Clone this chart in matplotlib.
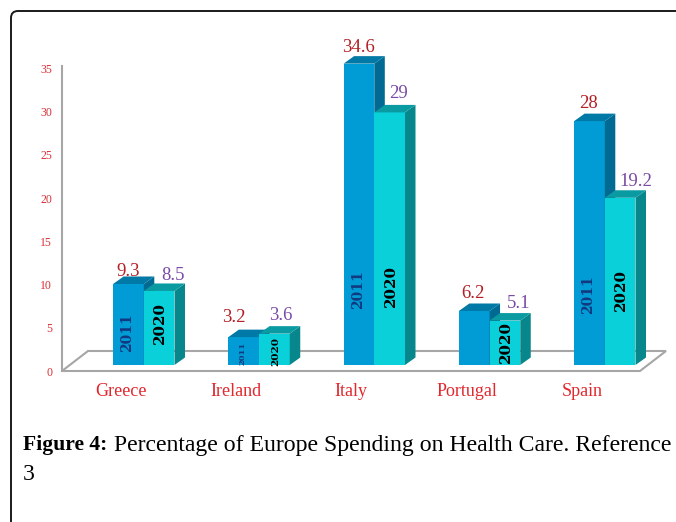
import matplotlib
matplotlib.use("Agg")
import matplotlib.pyplot as plt
from matplotlib.patches import FancyBboxPatch, Polygon

countries = ["Greece", "Ireland", "Italy", "Portugal", "Spain"]
spend_2011 = [9.3, 3.2, 34.6, 6.2, 28]
spend_2020 = [8.5, 3.6, 29, 5.1, 19.2]
value_labels_2011 = ["9.3", "3.2", "34.6", "6.2", "28"]
value_labels_2020 = ["8.5", "3.6", "29", "5.1", "19.2"]
y_ticks = [0, 5, 10, 15, 20, 25, 30, 35]

# Label placement, in pixels of the page
label_pos_2011 = [(128, 271), (234, 317), (358, 48), (473, 294), (589, 104)]
label_pos_2020 = [(173, 275), (281, 316), (398, 93), (519, 303), (636, 181)]
inner_pos_2011 = [333, 353, 290, None, 295]
inner_pos_2020 = [323, 352, 286, 342, 290]
inner_size_2011 = [10, 6, 10, 10, 10]
inner_size_2020 = [10.8, 7.5, 10.8, 10.8, 10.8]

W, H = 676, 522
BAR_W = 30.7
GAP = 115.25
DX, DY = 10.5, 7.5
BASE = 365
PX_PER_UNIT = 8.71

plt.rcParams["font.family"] = ["Liberation Serif", "DejaVu Serif"]

fig = plt.figure(figsize=(W / 100, H / 100), dpi=100)

# Page layer, one unit is one pixel
page = fig.add_axes([0, 0, 1, 1])
page.set_xlim(0, W)
page.set_ylim(H, 0)
page.axis("off")
page.add_patch(FancyBboxPatch((11, 11), 800, 700, boxstyle="round,pad=0,rounding_size=7",
                              fc="white", ec="#1a1a1a", lw=1.4))

# Floor of the plot
page.add_patch(Polygon([(62, 371), (88, 351), (666, 351), (640, 371)], closed=True,
                       fc="white", ec="#a6a6a6", lw=1.5))

# Axis with the tick labels
ax_y = fig.add_axes([62 / W, 1 - 371 / H, 0.01, (371 - 66) / H])
ax_y.patch.set_alpha(0)
ax_y.set_ylim(0, 35 * 305 / 302.5)
ax_y.set_xticks([])
ax_y.set_yticks(y_ticks)
ax_y.tick_params(axis="y", length=0, pad=7, labelsize=8.5, labelcolor="#dc2f36")
for s in ["top", "right", "bottom"]:
    ax_y.spines[s].set_visible(False)
ax_y.spines["left"].set_color("#a6a6a6")
ax_y.spines["left"].set_linewidth(1.5)

# Bars, x in category index and y in value
ax = fig.add_axes([0, 0, 1, 1])
ax.patch.set_alpha(0)
ax.axis("off")
x0 = 143.8
ax.set_xlim(-x0 / GAP, (W - x0) / GAP)
ax.set_ylim(-(H - BASE) / PX_PER_UNIT, BASE / PX_PER_UNIT)
w = BAR_W / GAP
dx, dy = DX / GAP, DY / PX_PER_UNIT


def bar3d(x, val, front, side, top, z):
    ax.bar(x, val, width=w, align="edge", color=front, zorder=z)
    ax.add_patch(Polygon([(x + w, 0), (x + w + dx, dy), (x + w + dx, val + dy), (x + w, val)],
                         closed=True, fc=side, ec="none", zorder=z))
    ax.add_patch(Polygon([(x, val), (x + dx, val + dy), (x + w + dx, val + dy), (x + w, val)],
                         closed=True, fc=top, ec="none", zorder=z))


for i in range(len(countries)):
    bar3d(i - w, spend_2011[i], "#019cd6", "#016a93", "#0179a6", 3)
    bar3d(i, spend_2020[i], "#0ad0d9", "#07878b", "#0a9aa2", 4)

# Text on top of everything
page_top = fig.add_axes([0, 0, 1, 1])
page_top.patch.set_alpha(0)
page_top.set_xlim(0, W)
page_top.set_ylim(H, 0)
page_top.axis("off")

for i, name in enumerate(countries):
    cx = x0 + GAP * i
    page_top.text(cx - 23, 392, name, color="#e0282e", fontsize=13, ha="center", va="center")
    px, py = label_pos_2011[i]
    page_top.text(px, py, value_labels_2011[i], color="#b31f24", fontsize=13.5, ha="center", va="center")
    px, py = label_pos_2020[i]
    page_top.text(px, py, value_labels_2020[i], color="#7a4ba6", fontsize=13.5, ha="center", va="center")
    if inner_pos_2011[i] is not None:
        page_top.text(cx - BAR_W / 2 - 1, inner_pos_2011[i], "2011", color="#11397f", family="DejaVu Serif",
                      fontsize=inner_size_2011[i], fontweight="bold", rotation=90, ha="center", va="center")
    page_top.text(cx + BAR_W / 2 + 1, inner_pos_2020[i], "2020", color="black", family="DejaVu Serif",
                  fontsize=inner_size_2020[i], fontweight="bold", rotation=90, ha="center", va="center")

# Caption
page_top.text(23, 445, "Figure 4:", fontsize=15.6, fontweight="bold", color="black", va="center")
page_top.text(114, 445, "Percentage of Europe Spending on Health Care. Reference", fontsize=17.1,
              color="black", va="center")
page_top.text(23, 474, "3", fontsize=17.1, color="black", va="center")

fig.savefig("out.png", dpi=100)
plt.close("all")
